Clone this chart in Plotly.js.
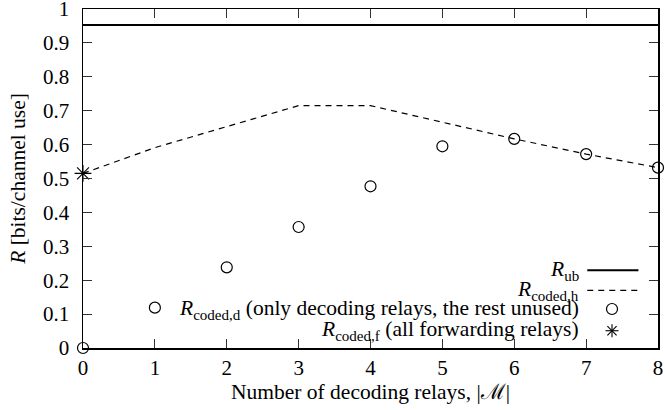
<!DOCTYPE html>
<html>
<head>
<meta charset="utf-8">
<script src="https://cdn.plot.ly/plotly-3.0.1.min.js"></script>
<style>html,body{margin:0;padding:0;background:#fff;}#chart{width:665px;height:410px;}</style>
</head>
<body>
<div id="chart"></div>
<script>
// ---- data ----
const relays = [0, 1, 2, 3, 4, 5, 6, 7, 8];
const rCodedH = [0.515, 0.591, 0.653, 0.715, 0.715, 0.666, 0.617, 0.572, 0.532];
const rCodedD = [0, 0.119, 0.238, 0.357, 0.477, 0.595, 0.617, 0.572, 0.532];
const forwardX = [0];
const rCodedF = [0.515];
const ubX = [0, 8];
const rUb = [0.953, 0.953];
const yTicks = [0, 0.1, 0.2, 0.3, 0.4, 0.5, 0.6, 0.7, 0.8, 0.9, 1];
const yTickText = ['0', '0.1', '0.2', '0.3', '0.4', '0.5', '0.6', '0.7', '0.8', '0.9', '1'];
const legendLabels = [
  '<i>R</i><sub>ub</sub>',
  '<i>R</i><sub>coded,h</sub>',
  '<i>R</i><sub>coded,d</sub> (only decoding relays, the rest unused)',
  '<i>R</i><sub>coded,f</sub> (all forwarding relays)'
];

const FONT = 'Liberation Serif';
const FS = 21;
const FST = 21.5;

const traces = [
  {x: ubX, y: rUb, mode: 'lines', line: {color: '#000', width: 2}, showlegend: false, hoverinfo: 'skip'},
  {x: relays, y: rCodedH, mode: 'lines', line: {color: '#000', width: 1.2, dash: '6px,5px'}, showlegend: false},
  {x: relays, y: rCodedD, mode: 'markers', cliponaxis: false,
   marker: {symbol: 'circle-open', size: 11, color: '#000', line: {width: 1.2, color: '#000'}}, showlegend: false},
  {x: forwardX, y: rCodedF, mode: 'markers', cliponaxis: false,
   marker: {symbol: 'asterisk-open', size: 14, color: '#000', line: {width: 1.1, color: '#000'}}, showlegend: false}
];

// custom gnuplot-style legend (text right-aligned, sample on the right)
const rowY = [0.229, 0.170, 0.115, 0.051];
const textX = 0.8637, sx0 = 0.877, sx1 = 0.966, mx = 0.920;
const annotations = legendLabels.map((t, i) => ({
  text: t, xref: 'paper', yref: 'paper', x: textX, y: rowY[i],
  xanchor: 'right', yanchor: 'middle', showarrow: false, borderpad: 0,
  font: {family: FONT, size: FST, color: '#000'}
}));
const shapes = [
  {type: 'line', xref: 'paper', yref: 'paper', x0: sx0, x1: sx1, y0: rowY[0], y1: rowY[0], line: {color: '#000', width: 2}},
  {type: 'line', xref: 'paper', yref: 'paper', x0: sx0, x1: sx1, y0: rowY[1], y1: rowY[1], line: {color: '#000', width: 1.2, dash: '6px,5px'}},
  {type: 'circle', xref: 'paper', yref: 'paper', xsizemode: 'pixel', ysizemode: 'pixel',
   xanchor: mx, yanchor: rowY[2], x0: -5.5, x1: 5.5, y0: -5.5, y1: 5.5, line: {color: '#000', width: 1.2}},
  {type: 'line', xref: 'paper', yref: 'paper', xsizemode: 'pixel', ysizemode: 'pixel',
   xanchor: mx, yanchor: rowY[3], x0: 0, x1: 0, y0: -6.5, y1: 6.5, line: {color: '#000', width: 1.1}},
  {type: 'line', xref: 'paper', yref: 'paper', xsizemode: 'pixel', ysizemode: 'pixel',
   xanchor: mx, yanchor: rowY[3], x0: -6.5, x1: 6.5, y0: 0, y1: 0, line: {color: '#000', width: 1.1}},
  {type: 'line', xref: 'paper', yref: 'paper', xsizemode: 'pixel', ysizemode: 'pixel',
   xanchor: mx, yanchor: rowY[3], x0: -4.6, x1: 4.6, y0: -4.6, y1: 4.6, line: {color: '#000', width: 1.1}},
  {type: 'line', xref: 'paper', yref: 'paper', xsizemode: 'pixel', ysizemode: 'pixel',
   xanchor: mx, yanchor: rowY[3], x0: -4.6, x1: 4.6, y0: 4.6, y1: -4.6, line: {color: '#000', width: 1.1}}
];

function axisCommon() {
  return {
    showline: true, linecolor: '#000', linewidth: 1.5, mirror: 'ticks',
    ticks: 'inside', ticklen: 9, tickwidth: 1, tickcolor: '#333',
    showgrid: false, zeroline: false, ticklabeloverflow: 'allow',
    tickfont: {family: FONT, size: FS, color: '#000'}
  };
}

const layout = {
  width: 665, height: 410,
  margin: {l: 83, r: 7, t: 9, b: 62, pad: 0},
  paper_bgcolor: '#fff', plot_bgcolor: '#fff',
  font: {family: FONT, size: FS, color: '#000'},
  xaxis: Object.assign(axisCommon(), {
    range: [0, 8], tickmode: 'linear', tick0: 0, dtick: 1,
    ticklabelstandoff: 0,
    title: {text: 'Number of decoding relays, |ℳ|', font: {family: FONT, size: FST, color: '#000'}, standoff: 0}
  }),
  yaxis: Object.assign(axisCommon(), {
    range: [0, 1], tickmode: 'array', tickvals: yTicks, ticktext: yTickText,
    ticklabelstandoff: 8,
    title: {text: '<i>R</i> [bits/channel use]', font: {family: FONT, size: FST, color: '#000'}, standoff: 11}
  }),
  annotations: annotations,
  shapes: shapes,
  showlegend: false
};

Plotly.newPlot('chart', traces, layout, {displayModeBar: false, staticPlot: true});
</script>
</body>
</html>
